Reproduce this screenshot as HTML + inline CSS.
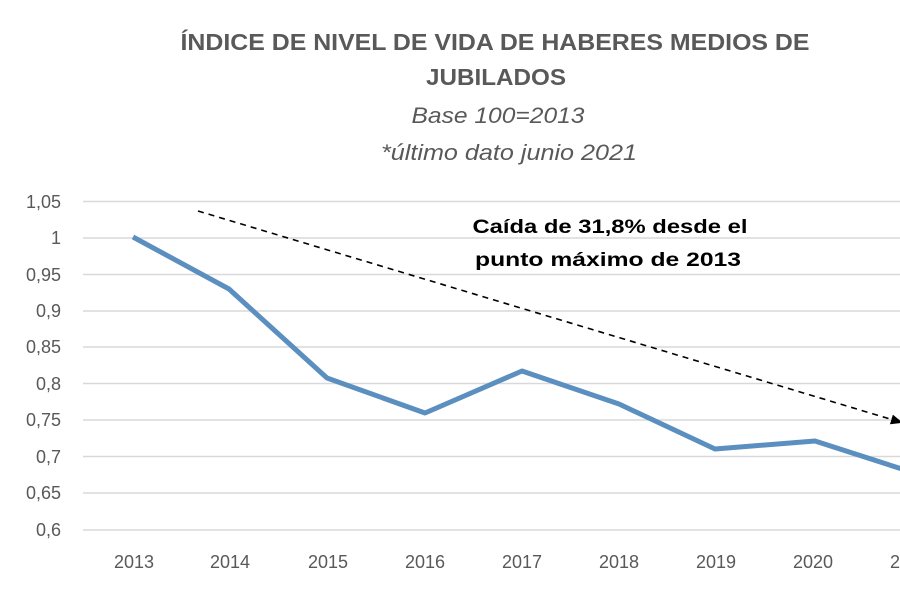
<!DOCTYPE html>
<html><head><meta charset="utf-8"><style>html,body{margin:0;padding:0;background:#fff;}svg{display:block}</style></head>
<body>
<svg width="900" height="600" xmlns="http://www.w3.org/2000/svg" font-family="Liberation Sans, sans-serif">
<defs><marker id="ah" markerWidth="12" markerHeight="10" refX="9" refY="5" orient="auto" markerUnits="userSpaceOnUse"><path d="M0,0 L12,5 L0,10 z" fill="#000"/></marker></defs>
<g fill="#595959" text-anchor="middle">
<text x="495" y="50" font-size="23" font-weight="bold" textLength="629" lengthAdjust="spacingAndGlyphs">ÍNDICE DE NIVEL DE VIDA DE HABERES MEDIOS DE</text>
<text x="496" y="85" font-size="23" font-weight="bold" textLength="140" lengthAdjust="spacingAndGlyphs">JUBILADOS</text>
<text x="498" y="123" font-size="22" font-style="italic" textLength="173" lengthAdjust="spacingAndGlyphs">Base 100=2013</text>
<text x="509" y="160" font-size="22" font-style="italic" textLength="256" lengthAdjust="spacingAndGlyphs">*último dato junio 2021</text>
</g>
<g stroke="#d9d9d9" stroke-width="1.5">
<line x1="83" x2="900" y1="201.5" y2="201.5"/><line x1="83" x2="900" y1="238" y2="238"/>
<line x1="83" x2="900" y1="274.5" y2="274.5"/><line x1="83" x2="900" y1="311" y2="311"/>
<line x1="83" x2="900" y1="347" y2="347"/><line x1="83" x2="900" y1="383.5" y2="383.5"/>
<line x1="83" x2="900" y1="420" y2="420"/><line x1="83" x2="900" y1="456.5" y2="456.5"/>
<line x1="83" x2="900" y1="493" y2="493"/><line x1="83" x2="900" y1="530" y2="530"/>
</g>
<g fill="#595959" font-size="18" text-anchor="end">
<text x="61" y="208">1,05</text><text x="61" y="244">1</text><text x="61" y="281">0,95</text>
<text x="61" y="317">0,9</text><text x="61" y="353">0,85</text><text x="61" y="390">0,8</text>
<text x="61" y="426">0,75</text><text x="61" y="463">0,7</text><text x="61" y="499">0,65</text>
<text x="61" y="536">0,6</text>
</g>
<g fill="#595959" font-size="18" text-anchor="middle">
<text x="134" y="568">2013</text><text x="230" y="568">2014</text><text x="328" y="568">2015</text>
<text x="425" y="568">2016</text><text x="522" y="568">2017</text><text x="619" y="568">2018</text>
<text x="716" y="568">2019</text><text x="813" y="568">2020</text><text x="910" y="568">2021</text>
</g>
<polyline fill="none" stroke="#5b8fc0" stroke-width="5" stroke-linejoin="round" points="133,237 229,289 327,378 425,413 522,371 619,404 715,449 815,441 905,470"/>
<line x1="198" y1="211" x2="900" y2="422" stroke="#000" stroke-width="1.6" stroke-dasharray="6,5" marker-end="url(#ah)"/>
<g fill="#000" font-size="19" font-weight="bold" text-anchor="middle">
<text x="610" y="233" textLength="275" lengthAdjust="spacingAndGlyphs">Caída de 31,8% desde el</text>
<text x="608" y="266" textLength="266" lengthAdjust="spacingAndGlyphs">punto máximo de 2013</text>
</g>
</svg>
</body></html>
